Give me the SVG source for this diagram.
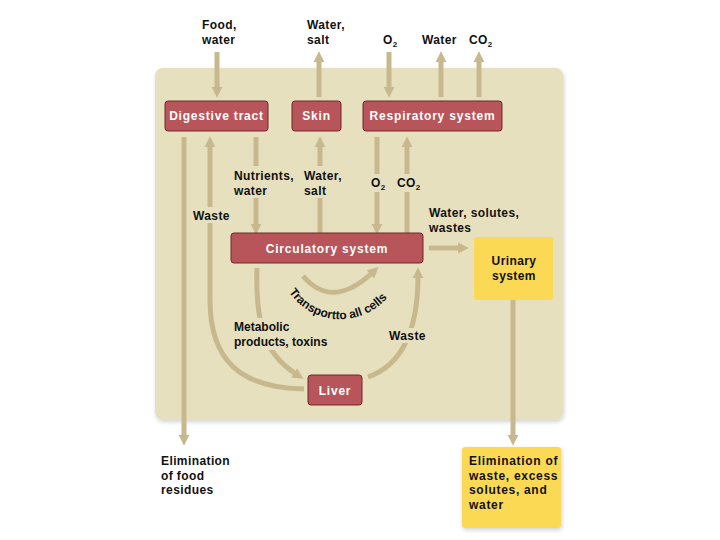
<svg xmlns="http://www.w3.org/2000/svg" width="720" height="540" viewBox="0 0 720 540">
<style>
.lbl{font-family:"Liberation Sans",Arial,sans-serif;font-size:12px;font-weight:bold;fill:#111;letter-spacing:0.4px}
.box{fill:#b8555a;stroke:#6e2b2b;stroke-width:1}
.btxt{font-family:"Liberation Sans",Arial,sans-serif;font-size:12px;font-weight:bold;fill:#fff;letter-spacing:0.8px;text-anchor:middle}
.ybox{fill:#fbd955}
.con{fill:none;stroke:#c8b88d;stroke-width:5;marker-end:url(#ah)}
.bg{fill:#e6e0bf}
.sub{font-size:8px}
</style>
<defs>
<marker id="ah" viewBox="0 0 10 10" refX="2" refY="5" markerWidth="11" markerHeight="12" markerUnits="userSpaceOnUse" orient="auto">
<path d="M0,0 L10,5 L0,10 z" fill="#c8b88d"/>
</marker>
<filter id="sh" x="-10%" y="-10%" width="120%" height="120%">
<feDropShadow dx="1" dy="2" stdDeviation="2" flood-color="#000" flood-opacity="0.18"/>
</filter>
<path id="arcText" d="M289,292 A62 62 0 0 0 393,290"/>
</defs>
<rect width="720" height="540" fill="#fff"/>
<rect id="panel" x="155" y="68" width="408" height="352" rx="8" fill="#e6e0bf" filter="url(#sh)"/>

<g id="connectors">
<path class="con" d="M217,52 L217,89"/>
<path class="con" d="M319,97 L319,60"/>
<path class="con" d="M389,52 L389,89"/>
<path class="con" d="M441,97 L441,60"/>
<path class="con" d="M479,97 L479,60"/>
<path class="con" d="M184,137 L184,437"/>
<path class="con" d="M304,389 C240,388 210,360 210,300 L210,145"/>
<path class="con" d="M256,137 L256,226"/>
<path class="con" d="M320,233 L320,145"/>
<path class="con" d="M377,137 L377,226"/>
<path class="con" d="M407,233 L407,145"/>
<path class="con" d="M429,248 L460,248"/>
<path class="con" d="M513,300 L513,437"/>
<path class="con" d="M257,268 C255,330 268,356 296,374"/>
<path class="con" d="M303,276 Q332,310 372,273"/>
<path class="con" d="M368,377 C402,365 418,330 418,276"/>
</g>

<g id="labels">
<text class="lbl" x="202" y="29">Food,</text>
<text class="lbl" x="202" y="44">water</text>
<text class="lbl" x="307" y="29">Water,</text>
<text class="lbl" x="307" y="44">salt</text>
<text class="lbl" x="383" y="44">O<tspan class="sub" dy="3">2</tspan></text>
<text class="lbl" x="422" y="44">Water</text>
<text class="lbl" x="469" y="44">CO<tspan class="sub" dy="3">2</tspan></text>

<rect class="bg" x="232" y="166" width="67" height="32"/>
<text class="lbl" x="234" y="180">Nutrients,</text>
<text class="lbl" x="234" y="195">water</text>
<rect class="bg" x="302" y="166" width="44" height="32"/>
<text class="lbl" x="304" y="180">Water,</text>
<text class="lbl" x="304" y="195">salt</text>
<rect class="bg" x="369" y="174" width="18" height="18"/>
<text class="lbl" x="371" y="187">O<tspan class="sub" dy="3">2</tspan></text>
<rect class="bg" x="395" y="174" width="30" height="18"/>
<text class="lbl" x="397" y="187">CO<tspan class="sub" dy="3">2</tspan></text>

<rect class="bg" x="191" y="207" width="43" height="16"/>
<text class="lbl" x="193" y="220">Waste</text>
<text class="lbl" x="429" y="217">Water, solutes,</text>
<text class="lbl" x="429" y="232">wastes</text>

<rect class="bg" x="232" y="318" width="98" height="32"/>
<text class="lbl" x="234" y="331" style="letter-spacing:0">Metabolic</text>
<text class="lbl" x="234" y="346" style="letter-spacing:0">products, toxins</text>
<rect class="bg" x="387" y="328" width="42" height="15"/>
<text class="lbl" x="389" y="340">Waste</text>

<text class="lbl" style="letter-spacing:0;font-size:12px"><textPath href="#arcText">Transportto all cells</textPath></text>

<text class="lbl" x="161" y="465">Elimination</text>
<text class="lbl" x="161" y="480">of food</text>
<text class="lbl" x="161" y="494">residues</text>
</g>

<g id="digestive"><rect class="box" x="165" y="101" width="103" height="30" rx="3"/><text class="btxt" x="216.5" y="120">Digestive tract</text></g>
<g id="skin"><rect class="box" x="292" y="101" width="49" height="30" rx="3"/><text class="btxt" x="316.5" y="120">Skin</text></g>
<g id="respiratory"><rect class="box" x="363" y="101" width="139" height="30" rx="3"/><text class="btxt" x="432.5" y="120">Respiratory system</text></g>
<g id="circulatory"><rect class="box" x="231" y="233" width="192" height="30" rx="3"/><text class="btxt" x="327" y="253">Circulatory system</text></g>
<g id="liver"><rect class="box" x="308" y="375" width="54" height="30" rx="3"/><text class="btxt" x="335" y="395">Liver</text></g>
<g id="urinary"><rect class="ybox" x="474" y="237" width="79" height="63" rx="3"/><text class="lbl" x="514" y="265" text-anchor="middle">Urinary</text><text class="lbl" x="514" y="280" text-anchor="middle">system</text></g>
<g id="elimination-waste"><rect class="ybox" x="462" y="447" width="99" height="81" rx="3" filter="url(#sh)"/>
<text class="lbl" x="469" y="465" style="letter-spacing:0.7px">Elimination of</text>
<text class="lbl" x="469" y="480" style="letter-spacing:0.7px">waste, excess</text>
<text class="lbl" x="469" y="494" style="letter-spacing:0.7px">solutes, and</text>
<text class="lbl" x="469" y="509" style="letter-spacing:0.7px">water</text></g>
</svg>
